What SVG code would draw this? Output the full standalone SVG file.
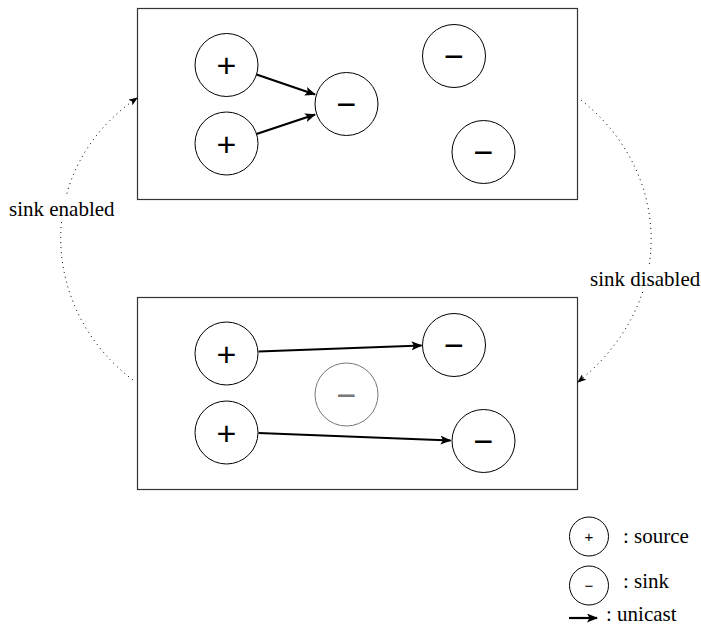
<svg xmlns="http://www.w3.org/2000/svg" width="701" height="627" viewBox="0 0 701 627">
<style>
.box{fill:none;stroke:#333;stroke-width:1.2}
.node{fill:#fff;stroke:#000;stroke-width:1}
.ghost{fill:#fff;stroke:#777;stroke-width:1}
.uni{fill:none;stroke:#000;stroke-width:2.2}
.dot{fill:none;stroke:#000;stroke-width:1;stroke-dasharray:1 4}
.sym{font-family:'Liberation Sans',Arial,sans-serif;font-size:34px;text-anchor:middle;fill:#000}
.lsym{font-family:'Liberation Sans',Arial,sans-serif;font-size:15px;text-anchor:middle;fill:#000}
.lbl{font-family:'Liberation Serif','Times New Roman',serif;font-size:21px;fill:#000}
</style>
<defs>
<marker id="ah" markerWidth="11" markerHeight="9" refX="10" refY="4.5" orient="auto" markerUnits="userSpaceOnUse">
<path d="M0,0 L11,4.5 L0,9 L2.5,4.5 Z" fill="#000"/>
</marker>
<marker id="dh" markerWidth="9" markerHeight="7" refX="8" refY="3.5" orient="auto" markerUnits="userSpaceOnUse">
<path d="M0,0 L9,3.5 L0,7 L2,3.5 Z" fill="#000"/>
</marker>
</defs>

<g id="top-panel">
<rect class="box" x="137.5" y="8.5" width="440" height="191"/>
</g>
<g id="bottom-panel">
<rect class="box" x="137.5" y="297.5" width="440" height="192"/>
</g>

<g id="connectors">
<line class="uni" x1="256.5" y1="74.5" x2="315" y2="94.5" marker-end="url(#ah)"/>
<line class="uni" x1="256.5" y1="134" x2="315" y2="114.5" marker-end="url(#ah)"/>
<line class="uni" x1="258.5" y1="351.5" x2="421.5" y2="345.5" marker-end="url(#ah)"/>
<line class="uni" x1="258.5" y1="433" x2="450.5" y2="440.5" marker-end="url(#ah)"/>
<path class="dot" d="M133,380 C40,310 32,170 137,98" marker-end="url(#dh)"/>
<path class="dot" d="M581,100 C670,170 680,300 578,382" marker-end="url(#dh)"/>
<line class="uni" x1="569" y1="618" x2="597" y2="618" marker-end="url(#ah)"/>
</g>

<g id="top-src1"><circle class="node" cx="226.5" cy="65" r="31.5"/><text class="sym" x="226.5" y="77">+</text></g>
<g id="top-src2"><circle class="node" cx="226.5" cy="143.5" r="31.5"/><text class="sym" x="226.5" y="155.5">+</text></g>
<g id="top-sink-mid"><circle class="node" cx="346.5" cy="104" r="31.5"/><text class="sym" x="346.5" y="116">−</text></g>
<g id="top-sink-a"><circle class="node" cx="454" cy="56" r="31.5"/><text class="sym" x="454" y="68">−</text></g>
<g id="top-sink-b"><circle class="node" cx="483.5" cy="152" r="31.5"/><text class="sym" x="483.5" y="164">−</text></g>
<g id="bot-src1"><circle class="node" cx="226.5" cy="353.5" r="31.5"/><text class="sym" x="226.5" y="365.5">+</text></g>
<g id="bot-src2"><circle class="node" cx="226.5" cy="432.5" r="31.5"/><text class="sym" x="226.5" y="444.5">+</text></g>
<g id="bot-sink-ghost"><circle class="ghost" cx="346.5" cy="394.5" r="31.5"/><text class="sym" x="346.5" y="406.5" style="fill:#777">−</text></g>
<g id="bot-sink-a"><circle class="node" cx="454" cy="345" r="31.5"/><text class="sym" x="454" y="357">−</text></g>
<g id="bot-sink-b"><circle class="node" cx="483.5" cy="441" r="31.5"/><text class="sym" x="483.5" y="453">−</text></g>

<g id="label-enabled">
<rect x="6" y="196" width="114" height="24" fill="#fff"/>
<text class="lbl" x="9" y="216">sink enabled</text>
</g>
<g id="label-disabled">
<rect x="587" y="266" width="114" height="24" fill="#fff"/>
<text class="lbl" x="590" y="286">sink disabled</text>
</g>

<g id="legend">
<circle class="node" cx="589" cy="536.5" r="19.5"/><text class="lsym" x="589" y="541.5">+</text>
<text class="lbl" x="623" y="543">: source</text>
<circle class="node" cx="589" cy="585.5" r="19.5"/><text class="lsym" x="589" y="590.5">−</text>
<text class="lbl" x="623" y="588">: sink</text>
<text class="lbl" x="606" y="621">: unicast</text>
</g>
</svg>
